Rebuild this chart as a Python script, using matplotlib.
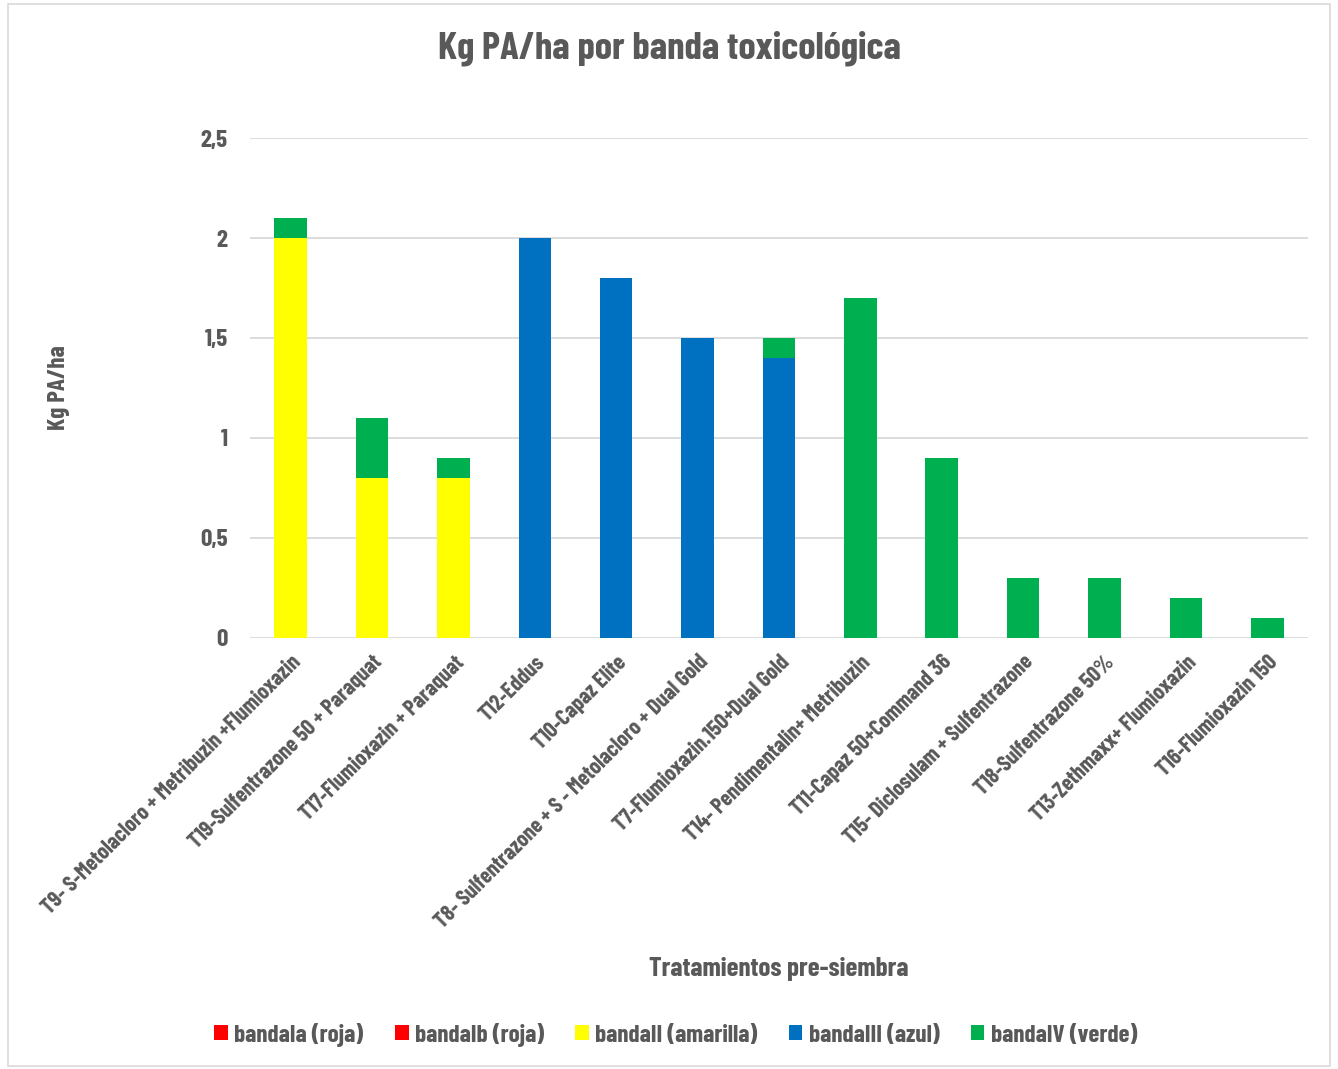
import numpy as np
import matplotlib.pyplot as plt
from matplotlib import font_manager as fm
from matplotlib.patches import Rectangle

# Datos
tratamientos = [
    "T9- S-Metolacloro + Metribuzin +Flumioxazin",
    "T19-Sulfentrazone 50 + Paraquat",
    "T17-Flumioxazin + Paraquat",
    "T12-Eddus",
    "T10-Capaz Elite",
    "T8- Sulfentrazone + S - Metolacloro + Dual Gold",
    "T7-Flumioxazin.150+Dual Gold",
    "T14- Pendimentalin+ Metribuzin",
    "T11-Capaz 50+Command 36",
    "T15- Diclosulam + Sulfentrazone",
    "T18-Sulfentrazone 50%",
    "T13-Zethmaxx+ Flumioxazin",
    "T16-Flumioxazin 150",
]
banda_ia = [0, 0, 0, 0, 0, 0, 0, 0, 0, 0, 0, 0, 0]
banda_ib = [0, 0, 0, 0, 0, 0, 0, 0, 0, 0, 0, 0, 0]
banda_ii = [2.0, 0.8, 0.8, 0, 0, 0, 0, 0, 0, 0, 0, 0, 0]
banda_iii = [0, 0, 0, 2.0, 1.8, 1.5, 1.4, 0, 0, 0, 0, 0, 0]
banda_iv = [0.1, 0.3, 0.1, 0, 0, 0, 0.1, 1.7, 0.9, 0.3, 0.3, 0.2, 0.1]

series = [
    ("bandaIa (roja)", banda_ia, "#FF0000"),
    ("bandaIb (roja)", banda_ib, "#FF0000"),
    ("bandaII (amarilla)", banda_ii, "#FFFF00"),
    ("bandaIII (azul)", banda_iii, "#0070C0"),
    ("bandaIV (verde)", banda_iv, "#00B050"),
]

# Fuente condensada parecida a la original (si existe)
disponibles = {f.name for f in fm.fontManager.ttflist}
familia = "DejaVu Sans"
for cand in ["Barlow Condensed", "Roboto Condensed", "Liberation Sans Narrow"]:
    if cand in disponibles:
        familia = cand
        break
plt.rcParams["font.family"] = [familia, "DejaVu Sans"]
plt.rcParams["font.weight"] = "bold"
plt.rcParams["axes.labelweight"] = "bold"
gris = "#595959"

fig = plt.figure(figsize=(13.38, 10.69), dpi=100)
fig.patches.append(Rectangle((0.006, 0.003), 0.988, 0.993, transform=fig.transFigure,
                             fill=False, edgecolor="#D9D9D9", linewidth=1.2))
ax = fig.add_axes([0.1868, 0.4032, 0.7908, 0.4677])

x = np.arange(len(tratamientos))
base = np.zeros(len(tratamientos))
handles = []
for nombre, vals, color in series:
    vals = np.asarray(vals, dtype=float)
    b = ax.bar(x, vals, 0.4, bottom=base, color=color, label=nombre, zorder=3)
    handles.append(b)
    base += vals

ax.set_xlim(-0.5, len(tratamientos) - 0.5)
ax.set_ylim(0, 2.5)
ax.set_yticks([0, 0.5, 1, 1.5, 2, 2.5])
ax.set_yticklabels(["0", "0,5", "1", "1,5", "2", "2,5"], fontsize=18, color=gris)
ax.yaxis.grid(True, color="#D9D9D9", linewidth=1.3, zorder=0)
ax.set_axisbelow(True)
for s in ["top", "right", "left", "bottom"]:
    ax.spines[s].set_visible(False)
ax.tick_params(axis="both", length=0)
ax.tick_params(axis="y", pad=16)

ax.set_xticks(x)
ax.set_xticklabels(tratamientos, rotation=45, ha="right", rotation_mode="anchor",
                   fontsize=16, color=gris)
ax.tick_params(axis="x", pad=10)

ax.set_ylabel("Kg PA/ha", fontsize=18, color=gris)
ax.yaxis.set_label_coords(-0.17, 0.5)
fig.text(0.582, 0.094, "Tratamientos pre-siembra", ha="center", va="center",
         fontsize=19.5, color=gris)
fig.text(0.5, 0.955, "Kg PA/ha por banda toxicológica", ha="center", va="center",
         fontsize=28, color=gris)

fig.legend(handles=handles, loc="center", bbox_to_anchor=(0.505, 0.032), ncol=5,
           frameon=False, fontsize=18, handlelength=0.55, handleheight=0.55,
           handletextpad=0.25, columnspacing=1.25, labelcolor=gris)

fig.savefig("out.png", dpi=100)
